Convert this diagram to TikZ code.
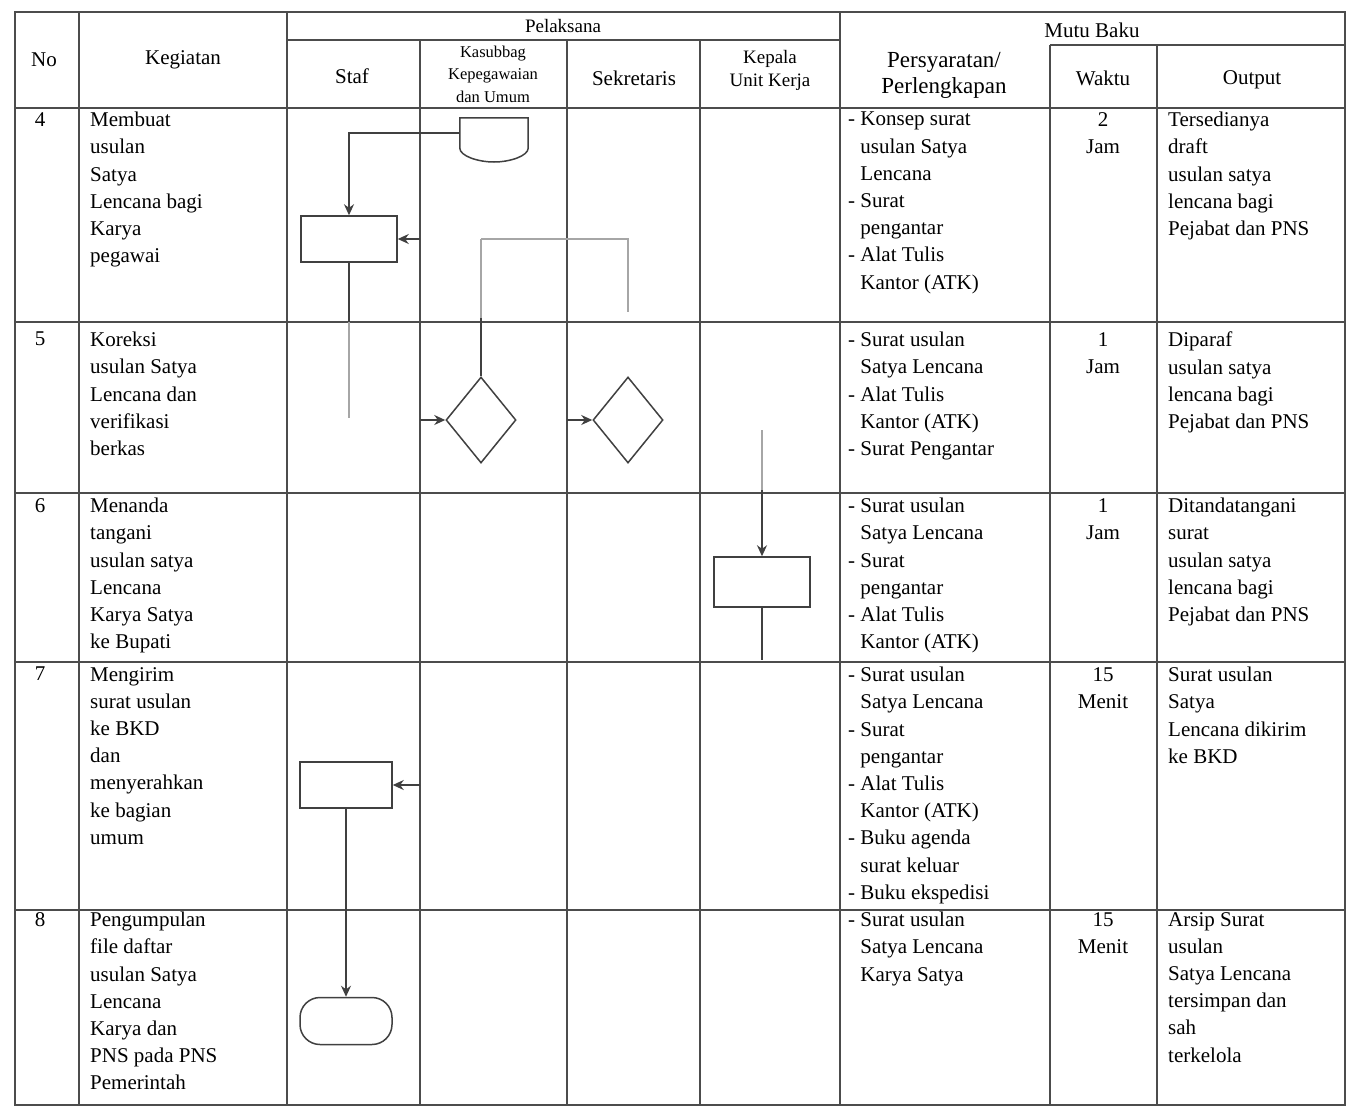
\documentclass[tikz,border=0pt]{standalone}
\usepackage{fontspec}
\setmainfont{Liberation Serif}
\usetikzlibrary{shapes.geometric,arrows.meta}
\begin{document}
\begin{tikzpicture}[x=1pt,y=-1pt,
  tbl/.style={draw=black!70,line width=1.6pt},
  flow/.style={draw=black!75,line width=1.5pt},
  faint/.style={draw=black!35,line width=1.5pt},
  arr/.style={-{Stealth[length=11pt,width=10pt]}},
  hdr/.style={font=\fontsize{21}{23}\selectfont,align=center,inner sep=0pt},
  hdrm/.style={font=\fontsize{19}{23}\selectfont,align=center,inner sep=0pt},
  hdrs/.style={font=\fontsize{16.5}{22.5}\selectfont,align=center,inner sep=0pt},
  hdrb/.style={font=\fontsize{23}{26}\selectfont,align=center,inner sep=0pt},
  txt/.style={font=\fontsize{21}{27.2}\selectfont,align=left,anchor=north west,inner sep=0pt},
  ctxt/.style={font=\fontsize{21}{27.2}\selectfont,align=center,anchor=north,inner sep=0pt},
  proc/.style={draw=black!75,line width=1.5pt,minimum width=96pt,minimum height=46pt,inner sep=0pt},
  dec/.style={draw=black!75,line width=1.5pt,diamond,minimum width=70pt,minimum height=86pt,inner sep=0pt},
  term/.style={draw=black!75,line width=1.5pt,rounded corners=20pt,minimum width=92pt,minimum height=47pt,inner sep=0pt}
]
\useasboundingbox (0,0) rectangle (1355,1109);
\fill[white] (0,0) rectangle (1355,1109);
\def\ph{\phantom{- }}
% ---------------- table ----------------
\draw[tbl] (15,12) rectangle (1345,1105);
\draw[tbl] (15,108) -- (1345,108);
\draw[tbl] (15,322) -- (1345,322);
\draw[tbl] (15,493) -- (1345,493);
\draw[tbl] (15,662) -- (1345,662);
\draw[tbl] (15,910) -- (1345,910);
\draw[tbl] (287,40) -- (840,40);
\draw[tbl] (1050,45) -- (1345,45);
\draw[tbl] (79,12) -- (79,1105);
\draw[tbl] (287,12) -- (287,1105);
\draw[tbl] (420,40) -- (420,1105);
\draw[tbl] (567,40) -- (567,1105);
\draw[tbl] (700,40) -- (700,1105);
\draw[tbl] (840,12) -- (840,1105);
\draw[tbl] (1050,45) -- (1050,1105);
\draw[tbl] (1157,45) -- (1157,1105);
% ---------------- header ----------------
\node[hdr] (hNo) at (44,60) {No};
\node[hdr] (hKeg) at (183,60) {Kegiatan};
\node[hdrm] (hPel) at (563,26) {Pelaksana};
\node[hdr] (hStaf) at (352,76) {Staf};
\node[hdrs] (hKas) at (493,74) {Kasubbag\\Kepegawaian\\dan Umum};
\node[hdr] (hSek) at (634,78) {Sekretaris};
\node[hdrm] (hKep) at (770,70) {Kepala\\Unit Kerja};
\node[hdrb] (hPer) at (944,75) {Persyaratan/\\Perlengkapan};
\node[hdr] (hMutu) at (1092,30) {Mutu Baku};
\node[hdr] (hWak) at (1103,78) {Waktu};
\node[hdr] (hOut) at (1252,80) {Output};
% ---------------- numbers ----------------
\node[ctxt] (n4) at (40,112) {4};
\node[ctxt] (n5) at (40,332) {5};
\node[ctxt] (n6) at (40,498) {6};
\node[ctxt] (n7) at (40,667) {7};
\node[ctxt] (n8) at (40,912) {8};
% ---------------- kegiatan ----------------
\node[txt] (k4) at (90,112) {Membuat\\usulan\\Satya\\Lencana bagi\\Karya\\pegawai};
\node[txt] (k5) at (90,332) {Koreksi\\usulan Satya\\Lencana dan\\verifikasi\\berkas};
\node[txt] (k6) at (90,498) {Menanda\\tangani\\usulan satya\\Lencana\\Karya Satya\\ke Bupati};
\node[txt] (k7) at (90,667) {Mengirim\\surat usulan\\ke BKD\\dan\\menyerahkan\\ke bagian\\umum};
\node[txt] (k8) at (90,912) {Pengumpulan\\file daftar\\usulan Satya\\Lencana\\Karya dan\\PNS pada PNS\\Pemerintah};
% ---------------- persyaratan ----------------
\node[txt] (p4) at (848,112) {- Konsep surat\\\ph usulan Satya\\\ph Lencana\\- Surat\\\ph pengantar\\- Alat Tulis\\\ph Kantor (ATK)};
\node[txt] (p5) at (848,332) {- Surat usulan\\\ph Satya Lencana\\- Alat Tulis\\\ph Kantor (ATK)\\- Surat Pengantar};
\node[txt] (p6) at (848,498) {- Surat usulan\\\ph Satya Lencana\\- Surat\\\ph pengantar\\- Alat Tulis\\\ph Kantor (ATK)};
\node[txt] (p7) at (848,667) {- Surat usulan\\\ph Satya Lencana\\- Surat\\\ph pengantar\\- Alat Tulis\\\ph Kantor (ATK)\\- Buku agenda\\\ph surat keluar\\- Buku ekspedisi};
\node[txt] (p8) at (848,912) {- Surat usulan\\\ph Satya Lencana\\\ph Karya Satya};
% ---------------- waktu ----------------
\node[ctxt] (w4) at (1103,112) {2\\Jam};
\node[ctxt] (w5) at (1103,332) {1\\Jam};
\node[ctxt] (w6) at (1103,498) {1\\Jam};
\node[ctxt] (w7) at (1103,667) {15\\Menit};
\node[ctxt] (w8) at (1103,912) {15\\Menit};
% ---------------- output ----------------
\node[txt] (o4) at (1168,112) {Tersedianya\\draft\\usulan satya\\lencana bagi\\Pejabat dan PNS};
\node[txt] (o5) at (1168,332) {Diparaf\\usulan satya\\lencana bagi\\Pejabat dan PNS};
\node[txt] (o6) at (1168,498) {Ditandatangani\\surat\\usulan satya\\lencana bagi\\Pejabat dan PNS};
\node[txt] (o7) at (1168,667) {Surat usulan\\Satya\\Lencana dikirim\\ke BKD};
\node[txt] (o8) at (1168,912) {Arsip Surat\\usulan\\Satya Lencana\\tersimpan dan\\sah\\terkelola};
% ---------------- flowchart ----------------
\node[minimum width=68pt,minimum height=30pt,inner sep=0pt] (op) at (494,133) {};
\draw[flow] (op.south west) -- (op.north west) -- (op.north east) -- (op.south east)
  .. controls (528,156) and (510,162) .. (494,162) .. controls (478,162) and (460,156) .. (op.south west);
\node[proc] (b1) at (349,239) {};
\draw[flow,arr] (op.west) -| (b1.north);
\node[dec] (d1) at (481,420) {};
\node[dec] (d2) at (628,420) {};
\coordinate (j1) at (481,239);
\coordinate (j2) at (628,239);
\coordinate (j3) at (628,312);
\coordinate (b1e) at (349,418);
\coordinate (r1) at (420,239);
\coordinate (r2) at (420,420);
\coordinate (r3) at (567,420);
\draw[flow,arr] (r1) -- (b1.east);
\draw[faint] (j1) -- (j2) -- (j3);
\draw[faint] (j1) -- (481,318);
\draw[flow] (481,318) -- (d1.north);
\draw[flow] (b1.south) -- (349,322);
\draw[faint] (349,322) -- (b1e);
\draw[flow,arr] (r2) -- (d1.west);
\draw[flow,arr] (r3) -- (d2.west);
\node[proc,minimum height=50pt] (b3) at (762,582) {};
\coordinate (c3) at (762,430);
\coordinate (c4) at (762,660);
\coordinate (c3b) at (762,490);
\draw[faint] (c3) -- (c3b);
\draw[flow,arr] (c3b) -- (b3.north);
\draw[flow] (b3.south) -- (c4);
\node[proc,minimum width=92pt] (b4) at (346,785) {};
\coordinate (c5) at (420,785);
\draw[flow,arr] (c5) -- (b4.east);
\node[term] (t1) at (346,1021) {};
\draw[flow,arr] (b4.south) -- (t1.north);
\end{tikzpicture}
\end{document}
